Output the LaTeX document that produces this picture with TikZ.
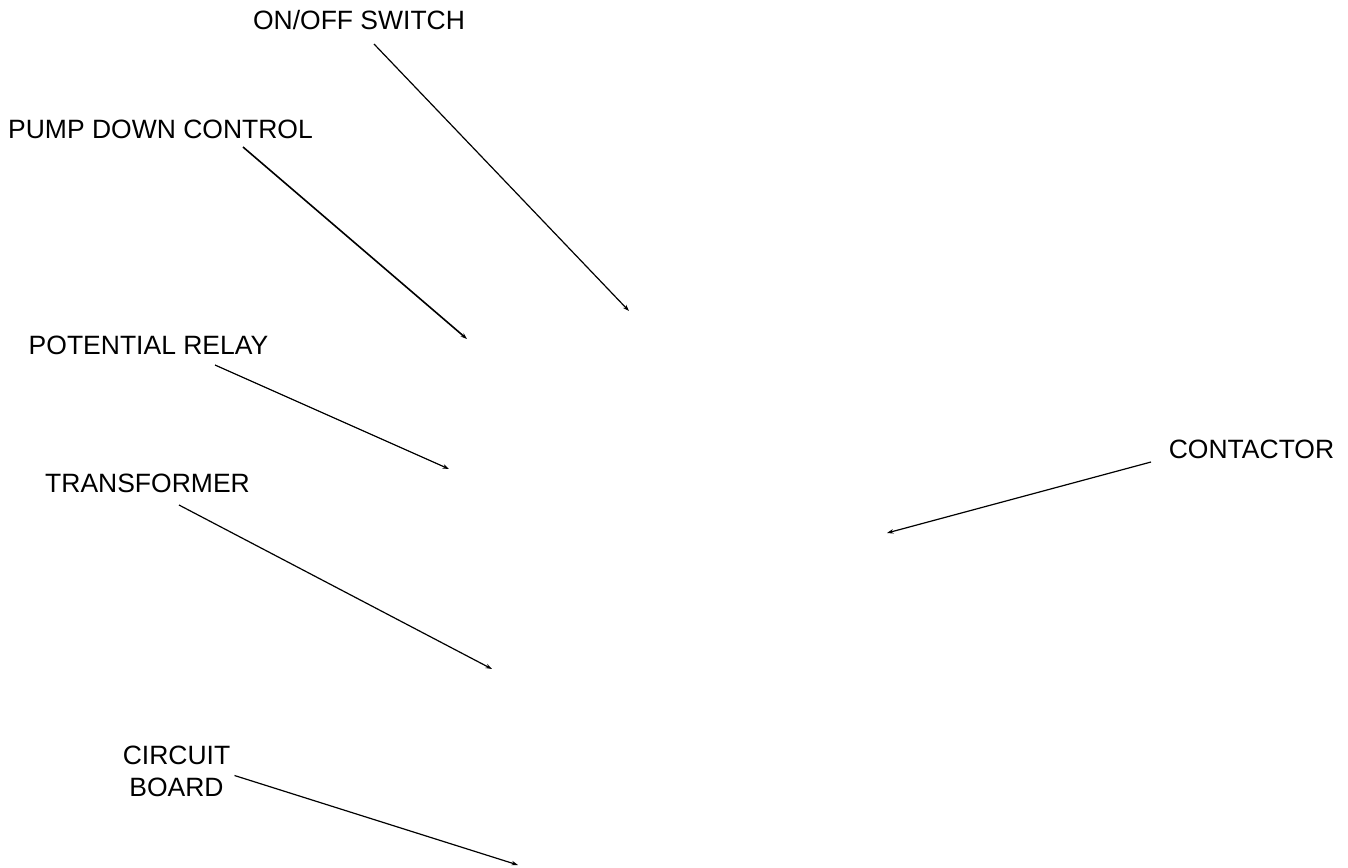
\documentclass[tikz,border=0pt]{standalone}
\usepackage{fontspec}
\setmainfont{Liberation Sans}
\usetikzlibrary{arrows.meta}
\tikzset{lab/.style={inner sep=0pt,font=\fontsize{26.5}{32}\selectfont,align=center,text=black},
conn/.style={draw=black,line width=1.2pt,-{Stealth[length=6.5pt,width=4.5pt]}}}
\begin{document}
\begin{tikzpicture}[x=1pt,y=-1pt]
\useasboundingbox (0,0) rectangle (1348,867);
\node[lab] (onoff) at (359,20) {ON/OFF SWITCH};
\node[lab] (pump) at (160.5,129) {PUMP DOWN CONTROL};
\node[lab] (pot) at (148.5,345) {POTENTIAL RELAY};
\node[lab] (trans) at (147.5,483) {TRANSFORMER};
\node[lab] (cont) at (1251.5,449) {CONTACTOR};
\node[lab] (board) at (176.5,771) {CIRCUIT\\BOARD};
\coordinate (a1s) at (374,44); \coordinate (a1e) at (629,311);
\coordinate (a2s) at (243,147); \coordinate (a2e) at (467,339);
\coordinate (a3s) at (215,365); \coordinate (a3e) at (449,469);
\coordinate (a4s) at (179,505); \coordinate (a4e) at (492,669);
\coordinate (a5s) at (1151,462); \coordinate (a5e) at (887,533);
\coordinate (a6s) at (234.5,775.5); \coordinate (a6e) at (518,865);
\draw[conn] (a1s) -- (a1e);
\draw[conn,line width=1.6pt] (a2s) -- (a2e);
\draw[conn] (a3s) -- (a3e);
\draw[conn] (a4s) -- (a4e);
\draw[conn] (a5s) -- (a5e);
\draw[conn] (a6s) -- (a6e);
\end{tikzpicture}
\end{document}
